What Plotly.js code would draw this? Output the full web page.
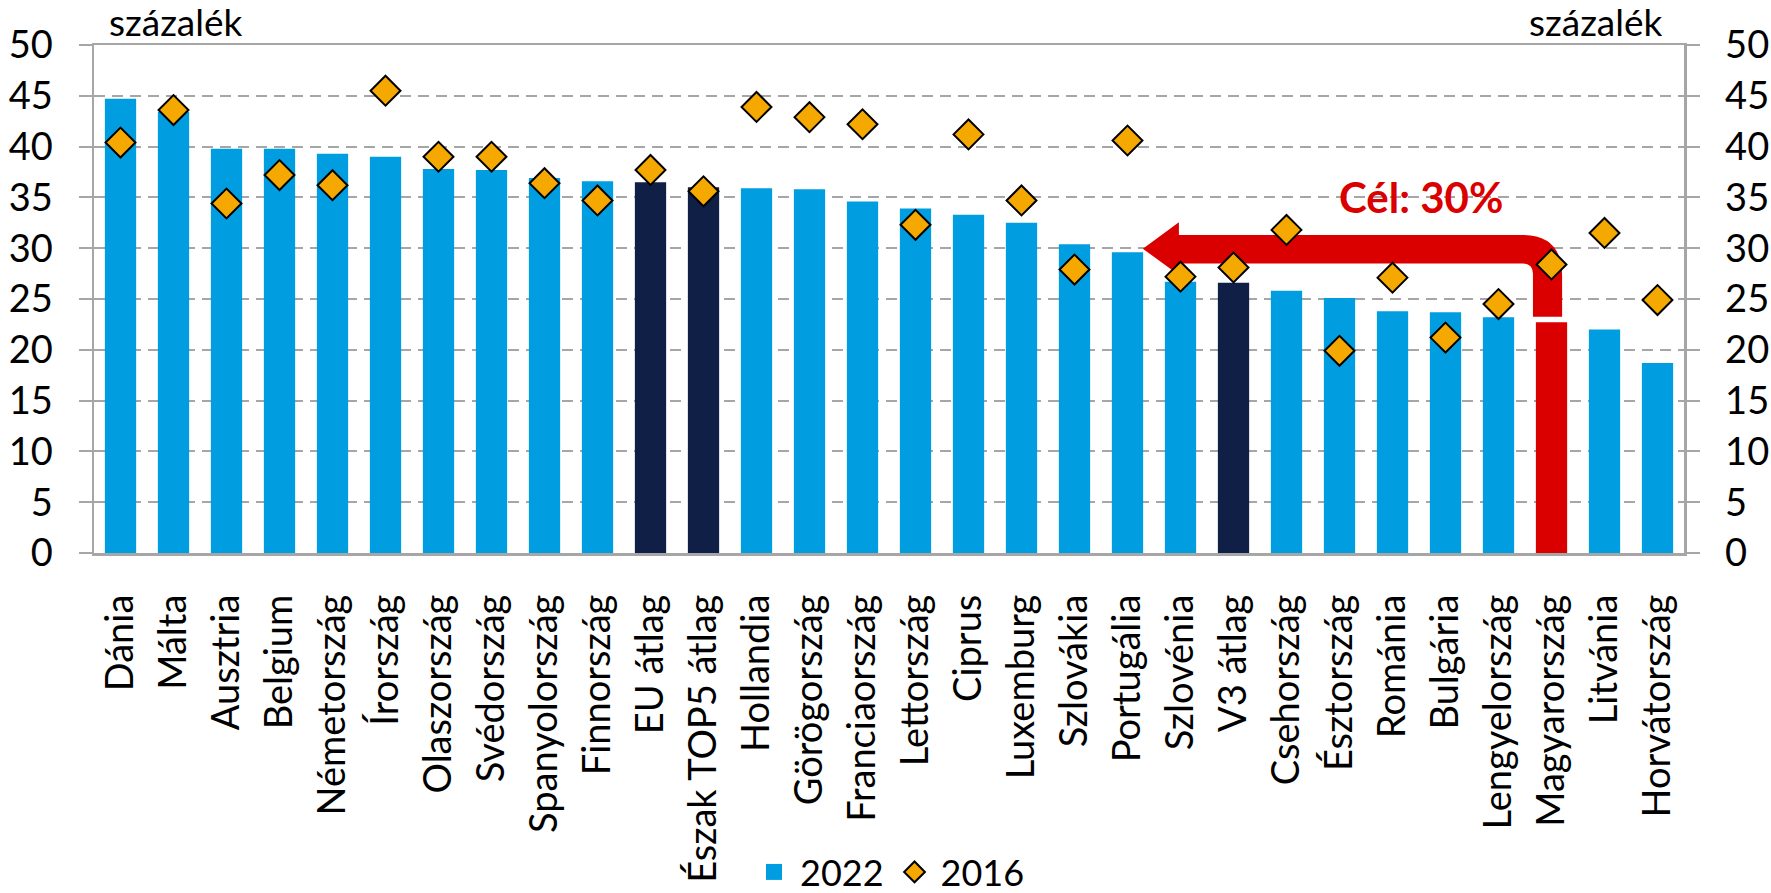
<!DOCTYPE html>
<html>
<head>
<meta charset="utf-8">
<script src="https://cdn.plot.ly/plotly-3.0.1.min.js"></script>
<style>
  html, body { margin: 0; padding: 0; background: #fff; }
  #chart { width: 1771px; height: 893px; }
</style>
</head>
<body>
<div id="chart"></div>
<script>
// Categories in chart order, 2022 bar values and 2016 diamond values (percent).
const COUNTRIES = [
  "Dánia", "Málta", "Ausztria", "Belgium", "Németország", "Írország", "Olaszország",
  "Svédország", "Spanyolország", "Finnország", "EU átlag", "Észak TOP5 átlag", "Hollandia",
  "Görögország", "Franciaország", "Lettország", "Ciprus", "Luxemburg", "Szlovákia",
  "Portugália", "Szlovénia", "V3 átlag", "Csehország", "Észtország", "Románia", "Bulgária",
  "Lengyelország", "Magyarország", "Litvánia", "Horvátország",
];
const VALUES_2022 = [
  44.7, 43.4, 39.8, 39.8, 39.3, 39.0, 37.8, 37.7, 36.9, 36.6, 36.5, 36.0, 35.9,
  35.8, 34.6, 33.9, 33.3, 32.5, 30.4, 29.6, 26.7, 26.6, 25.8, 25.1, 23.8, 23.7,
  23.2, 22.7, 22.0, 18.7,
];
const VALUES_2016 = [
  40.4, 43.6, 34.4, 37.2, 36.2, 45.5, 39.0, 39.0, 36.4, 34.7, 37.7, 35.6, 43.9,
  42.9, 42.2, 32.3, 41.2, 34.7, 27.9, 40.6, 27.2, 28.1, 31.8, 19.9, 27.1, 21.2,
  24.5, 28.4, 31.5, 24.9,
];
const AVERAGES = ["EU átlag", "Észak TOP5 átlag", "V3 átlag"];
const HIGHLIGHT = "Magyarország";
const TARGET = 30;            // "Cél: 30%"
const TARGET_FROM = "Magyarország";
const TARGET_TO = "Portugália";

const FONT = "Lato, 'Open Sans', sans-serif";
const C = {
  bar: "#009EE0", avg: "#0F1F45", red: "#DA0000", diamond: "#F5A800",
  grid: "#A6A6A6", axis: "#A6A6A6", text: "#000000",
};

const barColors = COUNTRIES.map(c =>
  c === HIGHLIGHT ? C.red : AVERAGES.includes(c) ? C.avg : C.bar);

const traces = [
  {
    x: COUNTRIES, y: VALUES_2022, type: "bar", name: "2022", showlegend: false,
    marker: { color: barColors, line: { width: 0 } }, hoverinfo: "x+y",
  },
  {
    x: [null], y: [null], type: "scatter", mode: "markers", name: "2022",
    marker: { symbol: "square", size: 16, color: C.bar }, hoverinfo: "skip",
  },
  {
    x: COUNTRIES, y: VALUES_2016, type: "scatter", mode: "markers", name: "2016",
    yaxis: "y2",
    marker: { symbol: "diamond", size: 23, color: C.diamond, line: { width: 2, color: "#000" } },
  },
];

// Target arrow: from above the Hungarian bar, up to the 30% level, left to Portugal.
const iFrom = COUNTRIES.indexOf(TARGET_FROM);
const iTo = COUNTRIES.indexOf(TARGET_TO);
const half = 1.4, headHalf = 2.6;
const yTop = TARGET - 0.1 + half, yBot = TARGET - 0.1 - half;
const xTip = iTo + 0.29, xBack = iTo + 0.97;
const xL = iFrom - 0.35, xR = iFrom + 0.2;
const yEnd = VALUES_2022[iFrom] + 0.55;
const arrowPath = [
  `M${xTip},${TARGET - 0.05}`,
  `L${xBack},${TARGET - 0.05 + headHalf}`,
  `L${xBack},${yTop}`,
  `L${xR - 0.75},${yTop}`,
  `Q${xR},${yTop} ${xR},${yTop - 4}`,
  `L${xR},${yEnd}`,
  `L${xL},${yEnd}`,
  `L${xL},${yBot - 1}`,
  `Q${xL},${yBot} ${xL - 0.2},${yBot}`,
  `L${xBack},${yBot}`,
  `L${xBack},${TARGET - 0.05 - headHalf}`,
  "Z",
].join(" ");

const yCommon = {
  range: [0, 50], dtick: 5, tick0: 0, fixedrange: true,
  showline: true, linecolor: C.axis, linewidth: 2.5,
  ticks: "outside", ticklen: 13, tickwidth: 2, tickcolor: C.axis,
  showgrid: true, gridcolor: C.grid, gridwidth: 2, griddash: "11px,7px",
  zeroline: false, ticklabelstandoff: 18, automargin: false,
  tickfont: { family: FONT, size: 38, color: C.text },
};

const layout = {
  width: 1771, height: 893,
  margin: { l: 94, r: 87, t: 45, b: 340, autoexpand: false },
  paper_bgcolor: "#fff", plot_bgcolor: "#fff",
  font: { family: FONT, color: C.text },
  bargap: 0.41,
  showlegend: true,
  legend: {
    orientation: "h", x: 0.5, xanchor: "center", y: -0.628, yanchor: "middle",
    bgcolor: "rgba(0,0,0,0)", borderwidth: 0,
    font: { family: FONT, size: 36, color: C.text }, itemsizing: "trace", itemwidth: 42,
  },
  xaxis: {
    type: "category", fixedrange: true, range: [-0.5, COUNTRIES.length - 0.5],
    showline: true, linecolor: C.axis, linewidth: 2.5, mirror: true, automargin: false,
    ticks: "", showgrid: false, tickangle: -90, ticklabelstandoff: 24,
    tickfont: { family: FONT, size: 38, color: C.text },
  },
  yaxis: Object.assign({}, yCommon, { side: "left" }),
  yaxis2: Object.assign({}, yCommon, { side: "right", overlaying: "y", showgrid: false }),
  shapes: [
    { type: "path", xref: "x", yref: "y", path: arrowPath, layer: "between",
      fillcolor: C.red, line: { width: 0 } },
  ],
  annotations: [
    { xref: "paper", yref: "paper", x: 0.008, y: 1, xanchor: "left", yanchor: "bottom", yshift: -1,
      text: "százalék", showarrow: false, font: { family: FONT, size: 37, color: C.text } },
    { xref: "paper", yref: "paper", x: 0.988, y: 1, xanchor: "right", yanchor: "bottom", yshift: -1,
      text: "százalék", showarrow: false, font: { family: FONT, size: 37, color: C.text } },
    { xref: "x", yref: "y", x: iFrom - 2.46, y: TARGET + 5, xanchor: "center", yanchor: "middle",
      text: "<b>Cél: 30%</b>", showarrow: false, font: { family: FONT, size: 42, color: C.red } },
  ],
};

Plotly.newPlot("chart", traces, layout, { staticPlot: true, displayModeBar: false });
</script>
</body>
</html>
